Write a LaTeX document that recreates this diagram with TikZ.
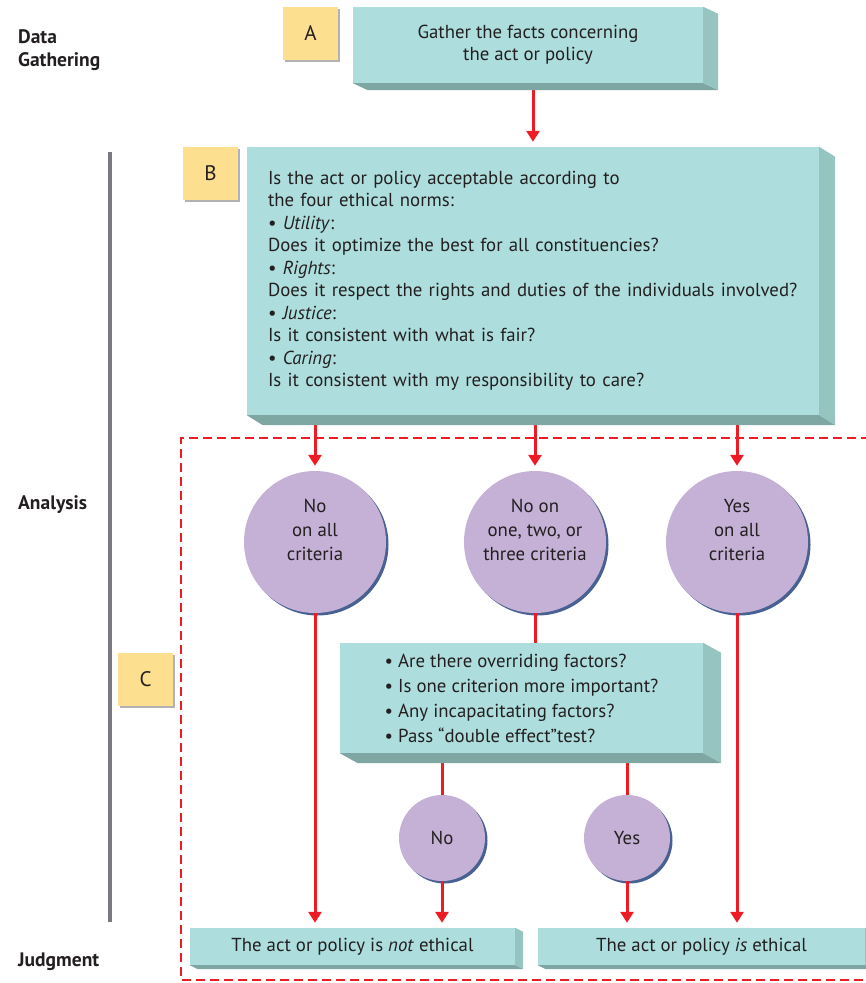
\documentclass[tikz,border=0pt]{standalone}
\usepackage{fontspec}
\setmainfont{PT Sans}
\usetikzlibrary{arrows.meta,positioning,shadows}

\definecolor{boxfront}{RGB}{173,222,221}
\definecolor{boxside}{RGB}{150,196,193}
\definecolor{boxbottom}{RGB}{126,166,163}
\definecolor{tagyellow}{RGB}{253,224,143}
\definecolor{vpurple}{RGB}{197,176,214}
\definecolor{vshadow}{RGB}{72,96,146}
\definecolor{flowred}{RGB}{237,28,36}
\definecolor{bargray}{RGB}{120,120,128}
\definecolor{inkgray}{RGB}{35,31,32}

\begin{document}
\begin{tikzpicture}[
  x=1pt, y=-1pt,
  every node/.style={text=inkgray, font=\fontsize{18.8}{22.5}\selectfont},
  stage/.style={anchor=west, align=left, inner sep=0pt, font=\fontsize{19.5}{23}\selectfont\bfseries},
  tag/.style={
    rectangle,
    fill=tagyellow,
    minimum width=55pt,
    minimum height=53pt,
    font=\fontsize{21}{24}\selectfont,
    drop shadow={shadow xshift=1.5pt, shadow yshift=-1.5pt, fill=black!30, opacity=1}
  },
  tbox/.style={rectangle, fill=boxfront, inner sep=0pt, align=center},
  verdict/.style={
    circle,
    fill=vpurple,
    minimum size=142pt,
    inner sep=0pt,
    align=center,
    font=\fontsize{18.8}{24}\selectfont,
    drop shadow={shadow xshift=2.5pt, shadow yshift=-2.5pt, fill=vshadow, opacity=1}
  },
  answer/.style={verdict, minimum size=86pt},
  flow/.style={draw=flowred, line width=3pt, -{Triangle[width=13pt,length=11pt]}, shorten >=5pt},
  link/.style={draw=flowred, line width=3pt},
  frame/.style={draw=flowred, line width=2.5pt, dash pattern=on 9pt off 5pt},
  bar/.style={draw=bargray, line width=4pt}
]
\useasboundingbox (0,0) rectangle (866,983);

\node[stage] (lblgather) at (18,50) {Data\\Gathering};
\node[stage] (lblanalysis) at (18,505) {Analysis};
\node[stage] (lbljudgment) at (18,962) {Judgment};
\draw[bar] (110,152) -- (110,922);

\draw[frame] (870,438) -- (181,438) -- (181,980) -- (870,980);

\node[tag] (tagA) at (310.5,33.5) {A};
\node[tbox, minimum width=350pt, minimum height=76pt, text depth=4pt] (gather) at (528,45) {Gather the facts concerning\\the act or policy};

\node[tag] (tagB) at (210.5,173.5) {B};
\node[tbox, text width=530pt, inner xsep=21pt, minimum height=268pt, align=left] (norms) at (533,281) {Is the act or policy acceptable according to\\
the four ethical norms:\\
• \textit{Utility}:\\
Does it optimize the best for all constituencies?\\
• \textit{Rights}:\\
Does it respect the rights and duties of the individuals involved?\\
• \textit{Justice}:\\
Is it consistent with what is fair?\\
• \textit{Caring}:\\
Is it consistent with my responsibility to care?};

\node[verdict] (allno) at (315,542) {No\\on all\\criteria\\};
\node[verdict] (someno) at (535,542) {No on\\one, two, or\\three criteria\\};
\node[verdict] (allyes) at (737,542) {Yes\\on all\\criteria\\};

\node[tag] (tagC) at (145.5,679.5) {C};
\node[tbox, minimum width=363pt, minimum height=110pt, align=left, font=\fontsize{18.8}{25}\selectfont] (checks) at (521.5,698) {• Are there overriding factors?\\
• Is one criterion more important?\\
• Any incapacitating factors?\\
• Pass “double effect”test?};

\node[answer] (no) at (442,838) {No};
\node[answer] (yes) at (627,838) {Yes};

\node[tbox, minimum width=325pt, minimum height=37pt] (notethical) at (352.5,946.5) {The act or policy is \textit{not} ethical};
\node[tbox, minimum width=327pt, minimum height=37pt] (ethical) at (701.5,946.5) {The act or policy \textit{is} ethical};

\draw[flow] (gather.south -| norms.north) -- (norms.north);
\draw[flow] (allno.north |- norms.south) -- (allno.north);
\draw[flow] (someno.north |- norms.south) -- (someno.north);
\draw[flow] (allyes.north |- norms.south) -- (allyes.north);
\draw[flow] (allno.south) -- (allno.south |- notethical.north);
\draw[flow] (allyes.south) -- (allyes.south |- ethical.north);
\draw[link] (someno.south) -- (someno.south |- checks.north);
\draw[link] (checks.south -| no.north) -- (no.north);
\draw[link] (checks.south -| yes.north) -- (yes.north);
\draw[flow] (no.south) -- (no.south |- notethical.north);
\draw[flow] (yes.south) -- (yes.south |- ethical.north);

% side and bottom faces of the boxes
\foreach \b/\dx/\dy in {gather/15/7, norms/16/10, checks/18/10, notethical/8/4, ethical/8/4}{
  \fill[boxside] (\b.north east) -- ++(\dx,\dy) -- ([shift={(\dx,\dy)}]\b.south east) -- (\b.south east) -- cycle;
  \fill[boxbottom] (\b.south west) -- ++(\dx,\dy) -- ([shift={(\dx,\dy)}]\b.south east) -- (\b.south east) -- cycle;
}

\end{tikzpicture}
\end{document}
